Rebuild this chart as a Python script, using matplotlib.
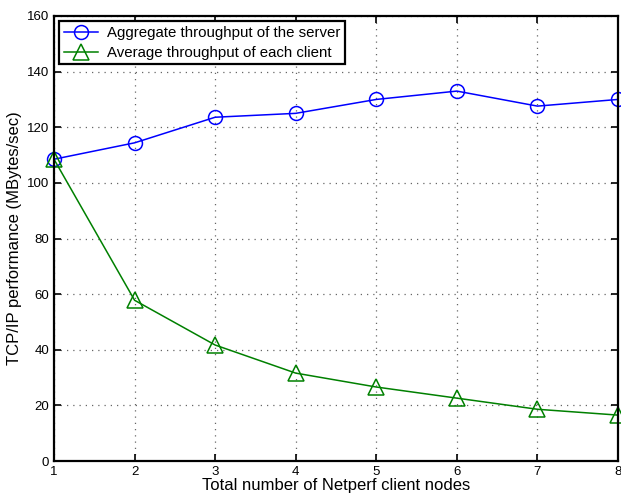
import numpy as np
import matplotlib
matplotlib.use('Agg')
import matplotlib.pyplot as plt

plt.rcParams.update({
    "font.family": ['Liberation Sans', 'DejaVu Sans'],
})

nodes = [1, 2, 3, 4, 5, 6, 7, 8]
server_aggregate = [108.5, 114.4, 123.6, 125.0, 130.0, 133.0, 127.6, 130.0]
client_average = [108.5, 57.8, 41.7, 31.6, 26.6, 22.6, 18.6, 16.5]

label_server = 'Aggregate throughput of the server'
label_client = 'Average throughput of each client'

fig = plt.figure(figsize=(6.21, 4.96), dpi=100)
ax = fig.add_axes([54/621, 35/496, 564/621, 445/496])

ax.plot(nodes, server_aggregate, color='blue', lw=1.1, marker='o', ms=10,
        mfc='none', mec='blue', mew=1.1, label=label_server, clip_on=False)
ax.plot(nodes, client_average, color='green', lw=1.1, marker='^', ms=11,
        mfc='none', mec='green', mew=1.1, label=label_client, clip_on=False)

ax.set_xlim(1, 8)
ax.set_ylim(0, 160)
ax.set_xticks(nodes)
ax.set_yticks(np.arange(0, 161, 20))
ax.tick_params(direction='in', top=True, right=True, labelsize=9.5, length=5, width=1.2)
ax.grid(True, linestyle=(0, (1, 4)), color='0.4', linewidth=0.9)
for s in ax.spines.values():
    s.set_linewidth(1.6)

ax.set_xlabel('Total number of Netperf client nodes', fontsize=12, labelpad=0)
ax.set_ylabel('TCP/IP performance (MBytes/sec)', fontsize=12, labelpad=3.5)

lg = ax.legend(loc='upper left', fontsize=10.8, fancybox=False, framealpha=1,
               edgecolor='black', borderpad=0.3, handlelength=2.3,
               handletextpad=0.6, labelspacing=0.4, borderaxespad=0.35)
lg.get_frame().set_linewidth(1.6)

plt.savefig('out.png', dpi=100)
